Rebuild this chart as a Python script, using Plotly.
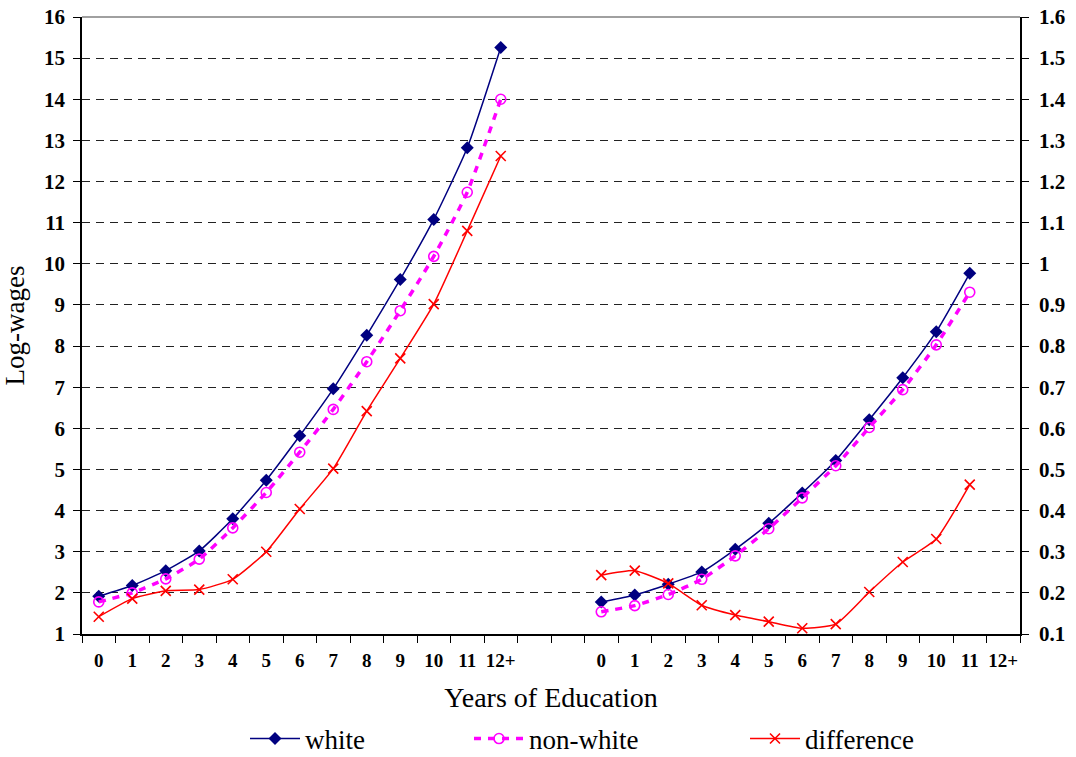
import plotly.graph_objects as go

# ---- data ----
years = ["0", "1", "2", "3", "4", "5", "6", "7", "8", "9", "10", "11", "12+"]

# left panel (left axis)
white_left = [1.92, 2.18, 2.54, 3.02, 3.80, 4.74, 5.82, 6.96, 8.26, 9.62, 11.08, 12.82, 15.26]
nonwhite_left = [1.78, 2.00, 2.34, 2.82, 3.58, 4.44, 5.42, 6.46, 7.62, 8.86, 10.18, 11.74, 14.00]
diff_left = [1.42, 1.86, 2.05, 2.08, 2.33, 3.00, 4.04, 5.02, 6.42, 7.70, 9.02, 10.80, 12.62]

# right panel (right axis), no value at 12+
white_right = [0.178, 0.195, 0.221, 0.251, 0.306, 0.369, 0.443, 0.522, 0.621, 0.723, 0.835, 0.977]
nonwhite_right = [0.154, 0.169, 0.196, 0.233, 0.290, 0.356, 0.431, 0.509, 0.602, 0.694, 0.803, 0.931]
diff_right = [0.243, 0.254, 0.223, 0.170, 0.146, 0.130, 0.114, 0.124, 0.202, 0.275, 0.331, 0.463]

gap_labels = ["", ""]
all_labels = years + gap_labels + years
positions = list(range(len(all_labels)))
left_x = positions[:len(years)]
right_start = len(years) + len(gap_labels)
right_x = positions[right_start:right_start + len(white_right)]

NAVY = "#000080"
MAG = "#FF00FF"
RED = "#FF0000"
SERIF = "Liberation Serif"

fig = go.Figure()

styles = {
    "white": dict(line=dict(color=NAVY, width=1.5, shape="spline", smoothing=0.5),
                  marker=dict(symbol="diamond", size=10, color=NAVY)),
    "non-white": dict(line=dict(color=MAG, width=3.5, dash="7px,7px", shape="spline", smoothing=0.5),
                      marker=dict(symbol="circle-open", size=10, color=MAG, line=dict(width=1.6, color=MAG))),
    "difference": dict(line=dict(color=RED, width=1.5, shape="spline", smoothing=0.5),
                       marker=dict(symbol="x-thin", size=10, color=RED, line=dict(width=1.6, color=RED))),
}
legend_ids = {"white": "legend", "non-white": "legend2", "difference": "legend3"}

for name, ys in [("white", white_left), ("non-white", nonwhite_left), ("difference", diff_left)]:
    fig.add_trace(go.Scatter(x=left_x, y=ys, mode="lines+markers", name=name,
                             legend=legend_ids[name], showlegend=True, yaxis="y", **styles[name]))
for name, ys in [("white", white_right), ("non-white", nonwhite_right), ("difference", diff_right)]:
    fig.add_trace(go.Scatter(x=right_x, y=ys, mode="lines+markers", name=name,
                             showlegend=False, yaxis="y2", **styles[name]))

W, H = 1076, 757
L, T = 82, 17
R = W - 1020
B = H - 634
pw, ph = W - L - R, H - T - B


def lx(px):
    return (px - L) / pw


def ly(py):
    return (H - B - py) / ph


leg_common = dict(orientation="h", yanchor="middle", xanchor="left",
                  font=dict(family=SERIF, size=27), itemwidth=50,
                  bgcolor="rgba(0,0,0,0)", borderwidth=0, tracegroupgap=0)

fig.update_layout(
    width=W, height=H,
    margin=dict(l=L, r=R, t=T, b=B, autoexpand=False),
    paper_bgcolor="white", plot_bgcolor="white",
    font=dict(family=SERIF, color="black"),
    showlegend=True,
    legend=dict(x=lx(245), y=ly(739), **leg_common),
    legend2=dict(x=lx(469), y=ly(739), **leg_common),
    legend3=dict(x=lx(745), y=ly(739), **leg_common),
    xaxis=dict(
        range=[-0.5, len(all_labels) - 0.5], automargin=False,
        tickmode="array", tickvals=positions, ticktext=all_labels,
        ticks="", showgrid=False, zeroline=False,
        showline=True, linecolor="black", linewidth=1.5,
        ticklabelstandoff=8, ticklabeloverflow="allow",
        tickfont=dict(family=SERIF, size=19, color="black", weight="bold"),
        minor=dict(tickmode="linear", tick0=-0.5, dtick=1, ticks="outside",
                   ticklen=7, tickcolor="black", tickwidth=1, showgrid=False),
        title=dict(text="Years of Education", font=dict(family=SERIF, size=28), standoff=18),
    ),
    yaxis=dict(
        range=[1, 16], dtick=1, tick0=1, automargin=False,
        showgrid=True, gridcolor="#222222", griddash="8px,6px", gridwidth=1,
        zeroline=False, showline=True, linecolor="black", linewidth=1.5,
        ticks="outside", ticklen=7, tickcolor="black",
        ticklabelstandoff=4, ticklabeloverflow="allow",
        tickfont=dict(family=SERIF, size=21, color="black", weight="bold"),
        title=dict(text="Log-wages", font=dict(family=SERIF, size=27), standoff=19),
    ),
    yaxis2=dict(
        range=[0.1, 1.6], dtick=0.1, tick0=0.1, automargin=False,
        overlaying="y", side="right",
        showgrid=False, zeroline=False, showline=True, linecolor="black", linewidth=1.5,
        ticks="outside", ticklen=7, tickcolor="black",
        ticklabelstandoff=6, ticklabeloverflow="allow",
        tickfont=dict(family=SERIF, size=21, color="black", weight="bold"),
    ),
    shapes=[dict(type="line", xref="paper", yref="paper", x0=0, x1=1, y0=1, y1=1,
                 line=dict(color="#808080", width=1.5))],
)

# remove the browser's default 8px page margin so the figure fills the window exactly
fig.write_html("out.html", config={"displayModeBar": False},
               post_script="document.body.style.margin='0';document.body.style.overflow='hidden';")
